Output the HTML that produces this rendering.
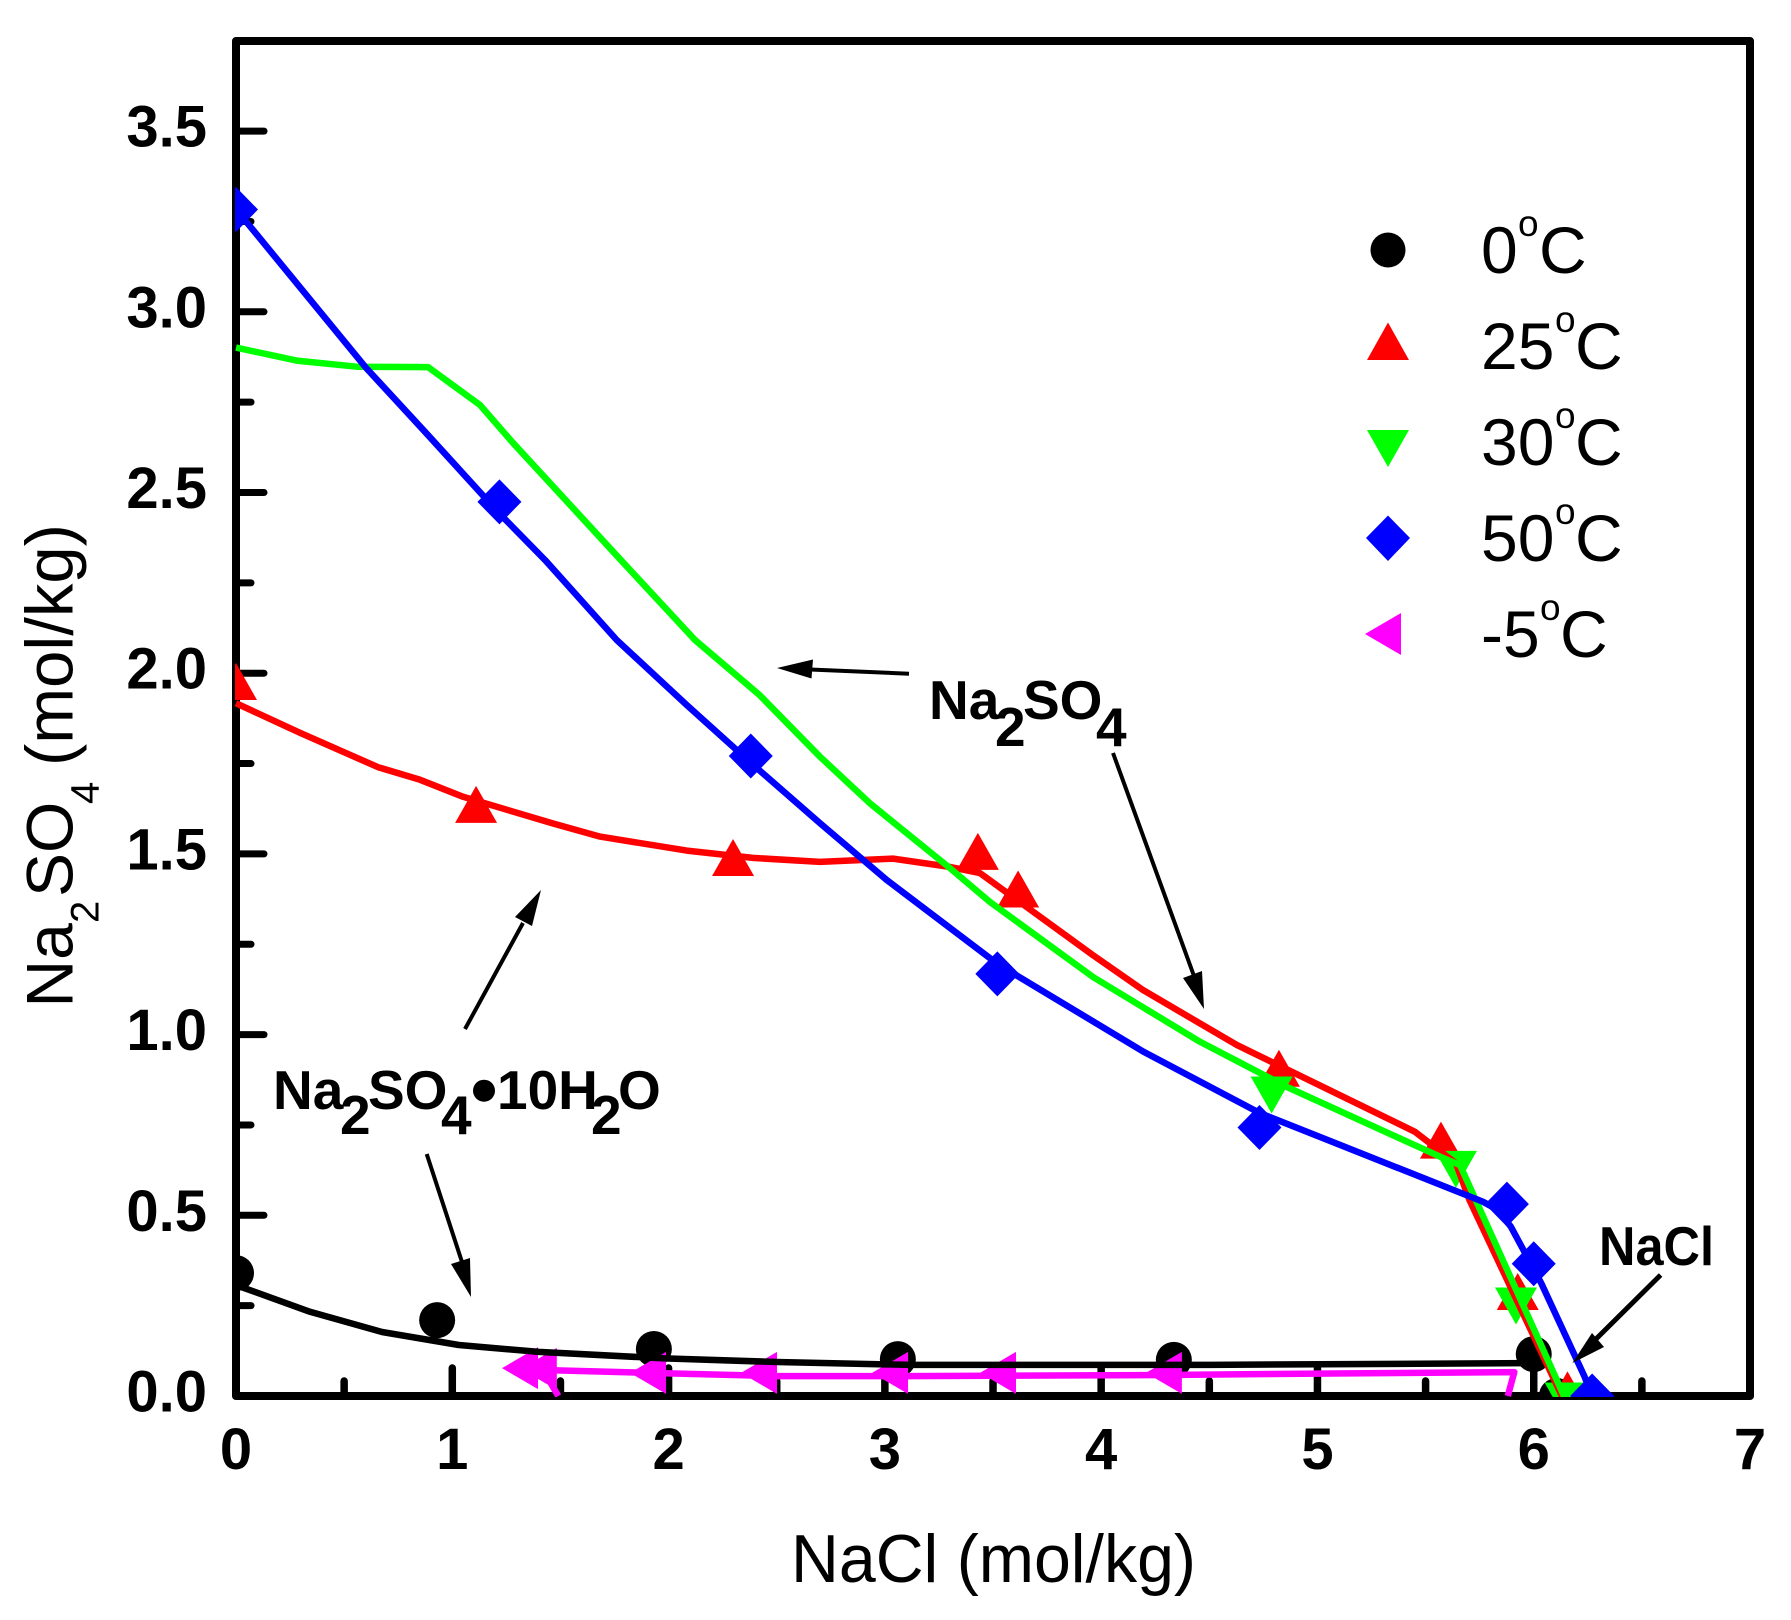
<!DOCTYPE html>
<html lang="en">
<head>
<meta charset="utf-8">
<title>NaCl - Na2SO4 solubility diagram</title>
<style>
html,body{margin:0;padding:0;background:#fff;}
svg{display:block;}
text{font-family:"Liberation Sans",sans-serif;fill:#000;}
.b{font-weight:bold;}
</style>
</head>
<body>
<svg id="chart" xmlns="http://www.w3.org/2000/svg" width="1791" height="1620" viewBox="0 0 1791 1620">
  <defs>
    <clipPath id="plot-clip"><rect x="235" y="41" width="1515" height="1356"/></clipPath>
  </defs>
  <rect width="1791" height="1620" fill="#fff"/>
  <g id="ticks"></g>
  <rect x="236" y="41" width="1514" height="1355" fill="none" stroke="#000" stroke-width="8" stroke-linejoin="round"/>
  <g id="tick-labels"></g>
  <g id="markers" clip-path="url(#plot-clip)"></g>
  <g id="lines" clip-path="url(#plot-clip)"></g>

  <text x="791" y="1582" font-size="68" textLength="405" lengthAdjust="spacingAndGlyphs">NaCl (mol/kg)</text>

  <g transform="translate(72.7,1007.5) rotate(-90)">
    <text font-size="66" x="0" y="0">Na</text>
    <text font-size="40" x="84.5" y="26">2</text>
    <text font-size="66" x="110.5" y="0">SO</text>
    <text font-size="40" x="203.5" y="26">4</text>
    <text font-size="67" x="241.5" y="0">(mol/kg)</text>
  </g>

  <g>
    <circle cx="1388" cy="250" r="17.5" fill="#000"/>
    <polygon points="1388,322.5 1409,360 1367,360" fill="#f00"/>
    <polygon points="1367,430 1409,430 1388,467" fill="#0f0"/>
    <polygon points="1388,515.5 1410,538 1388,561 1366,538" fill="#00f"/>
    <polygon points="1365,634 1401,613 1401,655" fill="#f0f"/>
    <text font-size="66" x="1481" y="273">0<tspan font-size="37" x="1518" y="236">o</tspan><tspan x="1539" y="273">C</tspan></text>
    <text font-size="66" x="1481" y="369">25<tspan font-size="37" x="1555" y="332">o</tspan><tspan x="1575" y="369">C</tspan></text>
    <text font-size="66" x="1481" y="465">30<tspan font-size="37" x="1555" y="428">o</tspan><tspan x="1575" y="465">C</tspan></text>
    <text font-size="66" x="1481" y="561">50<tspan font-size="37" x="1555" y="524">o</tspan><tspan x="1575" y="561">C</tspan></text>
    <text font-size="66" x="1481" y="657">-5<tspan font-size="37" x="1540" y="620">o</tspan><tspan x="1560" y="657">C</tspan></text>
  </g>

  <g font-weight="bold" font-size="55">
    <text x="929" y="719">Na</text>
    <text x="995" y="746">2</text>
    <text x="1023" y="719">SO</text>
    <text x="1096" y="746">4</text>
  </g>
  <g font-weight="bold" font-size="55">
    <text x="273" y="1109">Na</text>
    <text x="340" y="1134">2</text>
    <text x="368" y="1109">SO</text>
    <text x="441" y="1134">4</text>
    <circle cx="484" cy="1090.7" r="11" fill="#000"/>
    <text x="497" y="1109">10H</text>
    <text x="591" y="1134">2</text>
    <text x="618" y="1109">O</text>
  </g>
  <text class="b" font-size="55" x="1599" y="1265" textLength="115" lengthAdjust="spacingAndGlyphs">NaCl</text>

  <g fill="#000" stroke="#000">
    <g><line x1="909" y1="673.7" x2="810" y2="669.5" stroke-width="4"/><polygon stroke="none" points="777,668 813,659.5 811.5,678.5"/></g>
    <g><line x1="1113" y1="753" x2="1194" y2="976" stroke-width="4"/><polygon stroke="none" points="1204,1009 1183,978 1202,971"/></g>
    <g><line x1="465" y1="1029" x2="523" y2="923" stroke-width="4"/><polygon stroke="none" points="541,890 532,926 515,917"/></g>
    <g><line x1="426.7" y1="1154" x2="462" y2="1262" stroke-width="4"/><polygon stroke="none" points="471,1297 451,1264 470,1258"/></g>
    <g><line x1="1660.6" y1="1275" x2="1595" y2="1340" stroke-width="5"/><polygon stroke="none" points="1572.4,1363 1592,1333 1604,1347"/></g>
  </g>
</svg>
<script>
// Axis tick values
const xTickLabels = ["0", "1", "2", "3", "4", "5", "6", "7"];
const xMinorTicks = [0.5, 1.5, 2.5, 3.5, 4.5, 5.5, 6.5];
const yTickLabels = ["0.0", "0.5", "1.0", "1.5", "2.0", "2.5", "3.0", "3.5"];
const yMinorTicks = [0.25, 0.75, 1.25, 1.75, 2.25, 2.75, 3.25];

// Measured points (NaCl, Na2SO4 in mol/kg)
const pts0cX = [0, 0.93, 1.932, 3.06, 4.336, 6.0, 6.107];
const pts0cY = [0.34, 0.21, 0.13, 0.102, 0.1, 0.116, 0.0];
const pts25cX = [0, 1.11, 2.298, 3.43, 3.616, 4.822, 5.571, 5.926, 6.156];
const pts25cY = [1.977, 1.637, 1.49, 1.507, 1.403, 0.907, 0.708, 0.289, 0.017];
const pts30cX = [4.788, 5.64, 5.918, 6.147];
const pts30cY = [0.833, 0.627, 0.249, -0.014];
const pts50cX = [0, 1.218, 2.38, 3.52, 4.732, 5.876, 6.0, 6.27];
const pts50cY = [3.283, 2.474, 1.771, 1.168, 0.743, 0.531, 0.366, 0.0];
const ptsM5cX = [1.313, 1.4, 1.905, 2.418, 3.024, 3.523, 4.29];
const ptsM5cY = [0.077, 0.075, 0.064, 0.064, 0.064, 0.064, 0.064];

// Model curves
const line0cX = [0, 0.342, 0.675, 1.03, 1.4, 1.98, 2.5, 3.12, 4.5, 5.97];
const line0cY = [0.307, 0.233, 0.177, 0.141, 0.122, 0.104, 0.094, 0.086, 0.086, 0.091];
const line25cX = [0, 0.296, 0.657, 0.851, 1.05, 1.466, 1.683, 2.084, 2.39, 2.7, 3.037, 3.3, 3.44, 3.962, 4.194, 4.628, 5.451, 5.64, 5.703, 6.13];
const line25cY = [1.917, 1.835, 1.74, 1.705, 1.658, 1.584, 1.548, 1.509, 1.489, 1.478, 1.487, 1.464, 1.447, 1.22, 1.123, 0.971, 0.731, 0.644, 0.542, 0.0];
const line30cX = [0, 0.28, 0.558, 0.888, 1.128, 1.281, 1.775, 2.122, 2.42, 2.7, 2.931, 3.3, 3.486, 3.963, 4.457, 4.859, 5.571, 5.659, 6.14];
const line30cY = [2.901, 2.865, 2.848, 2.847, 2.742, 2.637, 2.316, 2.092, 1.94, 1.769, 1.64, 1.461, 1.367, 1.159, 0.98, 0.855, 0.661, 0.639, 0.0];
const line50cX = [0, 0.601, 0.883, 1.216, 1.429, 1.76, 2.084, 2.38, 2.7, 3.008, 3.522, 4.195, 4.733, 5.764, 5.834, 5.895, 6.034, 6.235, 6.27];
const line50cY = [3.284, 2.845, 2.662, 2.443, 2.313, 2.092, 1.912, 1.752, 1.585, 1.428, 1.195, 0.953, 0.783, 0.538, 0.515, 0.468, 0.313, 0.053, 0.0];
const lineM5cX = [1.49, 1.42, 1.98, 2.5, 3.12, 4.29, 5.0, 5.91, 5.88];
const lineM5cY = [0.0, 0.072, 0.063, 0.055, 0.055, 0.058, 0.062, 0.066, 0.0];

const NS = "http://www.w3.org/2000/svg";
function xAxis(v) { return 236 + v * 216.29; }
function yAxis(v) { return 1396 - v * 361.4; }
function make(tag, parent, attrs) {
  const el = document.createElementNS(NS, tag);
  for (const k in attrs) el.setAttribute(k, attrs[k]);
  parent.appendChild(el);
  return el;
}

const ticksG = document.getElementById("ticks");
const labelsG = document.getElementById("tick-labels");
const markersG = document.getElementById("markers");
const linesG = document.getElementById("lines");

function drawXTick(v, len) {
  const t = make("line", ticksG, { x1: xAxis(v), x2: xAxis(v), y1: 1396, y2: 1396 - len, stroke: "#000", "stroke-width": 7.5, "stroke-linecap": "round" });
  
  
}
function drawYTick(v, len) {
  const t = make("line", ticksG, { x1: 236, x2: 236 + len, y1: yAxis(v), y2: yAxis(v), stroke: "#000", "stroke-width": 7, "stroke-linecap": "round" });
  
  
}
xTickLabels.forEach(function (s) {
  const v = parseFloat(s);
  if (v > 0 && v < 7) drawXTick(v, 28);
  const t = make("text", labelsG, { x: xAxis(v), y: 1469, "font-size": 58, "font-weight": "bold", "text-anchor": "middle" });
  t.textContent = s;
  
  
});
xMinorTicks.forEach(function (v) { drawXTick(v, 15); });
yTickLabels.forEach(function (s) {
  const v = parseFloat(s);
  if (v > 0) drawYTick(v, 28);
  const t = make("text", labelsG, { x: 207, y: yAxis(v) + 15.5, "font-size": 58, "font-weight": "bold", "text-anchor": "end" });
  t.textContent = s;
  
  
});
yMinorTicks.forEach(function (v) { drawYTick(v, 15); });

function circleMark(cx, cy) {
  return make("circle", markersG, { cx: cx, cy: cy, r: 18, fill: "#000" });
}
function upMark(cx, cy) {
  return make("polygon", markersG, { points: cx + "," + (cy - 18.5) + " " + (cx + 21) + "," + (cy + 18.5) + " " + (cx - 21) + "," + (cy + 18.5), fill: "#f00" });
}
function downMark(cx, cy) {
  return make("polygon", markersG, { points: cx + "," + (cy + 18.5) + " " + (cx + 21) + "," + (cy - 18.5) + " " + (cx - 21) + "," + (cy - 18.5), fill: "#0f0" });
}
function diamondMark(cx, cy) {
  return make("polygon", markersG, { points: cx + "," + (cy - 22.5) + " " + (cx + 22) + "," + cy + " " + cx + "," + (cy + 22.5) + " " + (cx - 22) + "," + cy, fill: "#00f" });
}
function leftMark(cx, cy) {
  return make("polygon", markersG, { points: (cx - 18) + "," + cy + " " + (cx + 18) + "," + (cy - 21) + " " + (cx + 18) + "," + (cy + 21), fill: "#f0f" });
}
function drawMarks(xs, ys, fn, name) {
  xs.forEach(function (x, i) {
    const m = fn(xAxis(x), yAxis(ys[i]));
    
    
  });
}
drawMarks(pts0cX, pts0cY, circleMark, 'point-0c');
drawMarks(pts25cX, pts25cY, upMark, 'point-25c');
drawMarks(pts30cX, pts30cY, downMark, 'point-30c');
drawMarks(pts50cX, pts50cY, diamondMark, 'point-50c');
drawMarks(ptsM5cX, ptsM5cY, leftMark, 'point-minus5c');

function drawLine(xs, ys, color, name) {
  const pts = xs.map(function (x, i) { return xAxis(x).toFixed(1) + "," + yAxis(ys[i]).toFixed(1); }).join(" ");
  const l = make("polyline", linesG, { points: pts, fill: "none", stroke: color, "stroke-width": 6.5, "stroke-linejoin": "round" });
  
  
}
drawLine(line0cX, line0cY, "#000", 'line-0c');
drawLine(line25cX, line25cY, "#f00", 'line-25c');
drawLine(line30cX, line30cY, "#0f0", 'line-30c');
drawLine(line50cX, line50cY, "#00f", 'line-50c');
drawLine(lineM5cX, lineM5cY, "#f0f", 'line-minus5c');
</script>
</body>
</html>
